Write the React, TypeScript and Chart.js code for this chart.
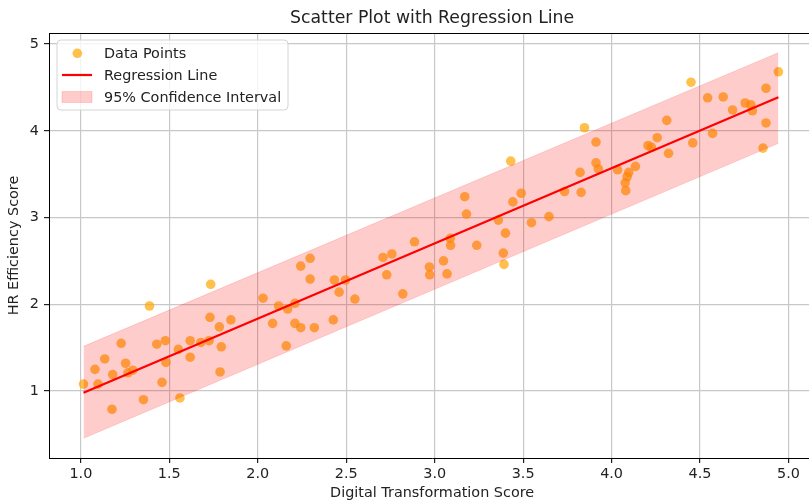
import { useEffect, useRef } from "react";
import { Chart, registerables } from "chart.js";

Chart.register(...registerables);

const TITLE = "Scatter Plot with Regression Line";
const X_LABEL = "Digital Transformation Score";
const Y_LABEL = "HR Efficiency Score";
const LEGEND_LABELS = ["Data Points", "Regression Line", "95% Confidence Interval"];

const DIGITAL_SCORE = [
  1.015, 1.097, 1.08, 1.135, 1.176, 1.18, 1.228, 1.253, 1.266, 1.294,
  1.388, 1.354, 1.429, 1.478, 1.459, 1.481, 1.56, 1.551, 1.618, 1.618,
  1.678, 1.725, 1.734, 1.73, 1.783, 1.794, 1.787, 1.848,
  2.03, 2.084, 2.118, 2.161, 2.169, 2.21, 2.21, 2.243, 2.243, 2.296,
  2.296, 2.32, 2.427, 2.433, 2.46, 2.496, 2.549, 2.708, 2.758, 2.729,
  2.82, 2.886, 2.97, 2.972, 3.05, 3.07,
  3.088, 3.09, 3.17, 3.18, 3.238, 3.36, 3.388, 3.392, 3.4, 3.43,
  3.442, 3.489, 3.547, 3.646, 3.734, 3.822, 3.828, 3.847, 3.912, 3.912,
  3.925, 4.034, 4.077, 4.08, 4.088, 4.097, 4.135,
  4.206, 4.225, 4.258, 4.312, 4.322, 4.449, 4.459, 4.543, 4.571,
  4.631, 4.684, 4.755, 4.787, 4.796, 4.856, 4.873, 4.873, 4.943,
];
const HR_SCORE = [
  1.08, 1.08, 1.25, 1.37, 0.79, 1.19, 1.55, 1.32, 1.21, 1.24,
  1.98, 0.9, 1.54, 1.58, 1.1, 1.33, 0.92, 1.48, 1.58, 1.39,
  1.56, 1.58, 2.23, 1.85, 1.74, 1.51, 1.22, 1.82,
  2.07, 1.78, 1.98, 1.52, 1.945, 2.01, 1.78, 1.73, 2.44, 2.53,
  2.29, 1.73, 1.82, 2.28, 2.14, 2.28, 2.06, 2.54, 2.58, 2.34,
  2.12, 2.72, 2.43, 2.34, 2.5, 2.35,
  2.76, 2.68, 3.24, 3.04, 2.68, 2.97, 2.59, 2.46, 2.82, 3.65,
  3.18, 3.28, 2.94, 3.01, 3.3, 3.52, 3.29, 4.035, 3.87, 3.63,
  3.56, 3.55, 3.4, 3.31, 3.47, 3.52, 3.59,
  3.83, 3.81, 3.92, 4.12, 3.74, 4.56, 3.86, 4.38, 3.97,
  4.39, 4.24, 4.32, 4.3, 4.23, 3.8, 4.49, 4.09, 4.68,
];

const REG_X = [1.015, 4.943];
const REG_Y = [0.98, 4.386];
const CI_LOWER = [0.455, 3.855];
const CI_UPPER = [1.515, 4.9];

const X_TICKS = [1.0, 1.5, 2.0, 2.5, 3.0, 3.5, 4.0, 4.5, 5.0];
const Y_TICKS = [1, 2, 3, 4, 5];

const FONT = "DejaVu Sans";
const TEXT = "#222222";
const POINT_COLOR = "rgba(255,165,0,0.7)";
const LINE_COLOR = "#ff0000";
const BAND_COLOR = "rgba(255,0,0,0.2)";
const GRID_COLOR = "#c8c8c8";

const framePlugin = {
  id: "frame",
  afterDraw(chart: any) {
    const { ctx, chartArea: a } = chart;
    ctx.save();
    // top spine
    ctx.strokeStyle = "#000";
    ctx.lineWidth = 1;
    ctx.beginPath();
    ctx.moveTo(a.left, Math.round(a.top) + 0.5);
    ctx.lineTo(a.right, Math.round(a.top) + 0.5);
    ctx.stroke();

    // title
    ctx.fillStyle = TEXT;
    ctx.font = `17.3px "${FONT}"`;
    ctx.textAlign = "center";
    ctx.textBaseline = "alphabetic";
    ctx.fillText(TITLE, (a.left + a.right) / 2, 23);

    // legend
    const bx = 57, by = 40, bw = 231, bh = 70, r = 4;
    ctx.beginPath();
    ctx.moveTo(bx + r, by);
    ctx.lineTo(bx + bw - r, by);
    ctx.arcTo(bx + bw, by, bx + bw, by + r, r);
    ctx.lineTo(bx + bw, by + bh - r);
    ctx.arcTo(bx + bw, by + bh, bx + bw - r, by + bh, r);
    ctx.lineTo(bx + r, by + bh);
    ctx.arcTo(bx, by + bh, bx, by + bh - r, r);
    ctx.lineTo(bx, by + r);
    ctx.arcTo(bx, by, bx + r, by, r);
    ctx.closePath();
    ctx.fillStyle = "rgba(255,255,255,0.8)";
    ctx.fill();
    ctx.strokeStyle = "#d4d4d4";
    ctx.lineWidth = 1;
    ctx.stroke();

    // marker
    ctx.fillStyle = POINT_COLOR;
    ctx.beginPath();
    ctx.arc(77.3, 53.3, 4.8, 0, Math.PI * 2);
    ctx.fill();
    // line
    ctx.strokeStyle = LINE_COLOR;
    ctx.lineWidth = 2.2;
    ctx.beginPath();
    ctx.moveTo(62, 75);
    ctx.lineTo(92, 75);
    ctx.stroke();
    // band patch
    ctx.fillStyle = BAND_COLOR;
    ctx.fillRect(62, 91.5, 30, 11);
    ctx.strokeStyle = "rgba(255,0,0,0.15)";
    ctx.lineWidth = 1;
    ctx.strokeRect(62, 91.5, 30, 11);

    ctx.fillStyle = TEXT;
    ctx.font = `14.4px "${FONT}"`;
    ctx.textAlign = "left";
    const baselines = [58.3, 79.8, 101.6];
    LEGEND_LABELS.forEach((t, i) => ctx.fillText(t, 104, baselines[i]));
    ctx.restore();
  },
};

export default function App() {
  const ref = useRef<HTMLCanvasElement | null>(null);

  useEffect(() => {
    if (!ref.current) return;
    const points = DIGITAL_SCORE.map((x, i) => ({ x, y: HR_SCORE[i] }));
    const reg = REG_X.map((x, i) => ({ x, y: REG_Y[i] }));
    const lower = REG_X.map((x, i) => ({ x, y: CI_LOWER[i] }));
    const upper = REG_X.map((x, i) => ({ x, y: CI_UPPER[i] }));

    const chart = new Chart(ref.current, {
      type: "scatter",
      data: {
        datasets: [
          {
            label: LEGEND_LABELS[0],
            data: points,
            backgroundColor: POINT_COLOR,
            borderWidth: 0,
            pointRadius: 4.8,
            pointHoverRadius: 4.8,
            order: 3,
          } as any,
          {
            type: "line",
            label: LEGEND_LABELS[1],
            data: reg,
            borderColor: LINE_COLOR,
            borderWidth: 2.2,
            pointRadius: 0,
            fill: false,
            order: 2,
          },
          {
            type: "line",
            label: "ci-lower",
            data: lower,
            borderColor: "rgba(255,0,0,0.15)",
            borderWidth: 1,
            pointRadius: 0,
            fill: false,
            order: 1,
          },
          {
            type: "line",
            label: LEGEND_LABELS[2],
            data: upper,
            borderColor: "rgba(255,0,0,0.15)",
            borderWidth: 1,
            pointRadius: 0,
            backgroundColor: BAND_COLOR,
            fill: "-1",
            order: 0,
          },
        ],
      },
      options: {
        responsive: false,
        animation: false,
        devicePixelRatio: 1,
        layout: { padding: { top: 33, left: 0, right: 0, bottom: 0 } },
        plugins: {
          legend: { display: false },
          title: { display: false },
          tooltip: { enabled: false },
        },
        scales: {
          x: {
            type: "linear",
            min: 0.82,
            max: 5.151,
            afterBuildTicks: (s: any) => {
              s.ticks = X_TICKS.map((v) => ({ value: v }));
            },
            afterFit: (s: any) => {
              s.height = 44;
            },
            ticks: {
              callback: (v: any) => Number(v).toFixed(1),
              color: TEXT,
              font: { family: FONT, size: 14.4 },
              padding: 3,
              maxRotation: 0,
              autoSkip: false,
            },
            grid: { color: GRID_COLOR, lineWidth: 1.2, tickColor: "#222", tickLength: 5 },
            border: { color: "#000", width: 1 },
            title: {
              display: true,
              text: X_LABEL,
              color: TEXT,
              font: { family: FONT, size: 14.4 },
              padding: { top: 0, bottom: 0 },
            },
          },
          y: {
            type: "linear",
            min: 0.228,
            max: 5.127,
            afterBuildTicks: (s: any) => {
              s.ticks = Y_TICKS.map((v) => ({ value: v }));
            },
            afterFit: (s: any) => {
              s.width = 49;
            },
            ticks: {
              callback: (v: any) => String(Math.round(Number(v))),
              color: TEXT,
              font: { family: FONT, size: 14.4 },
              padding: 5,
              autoSkip: false,
            },
            grid: { color: GRID_COLOR, lineWidth: 1.2, tickColor: "#222", tickLength: 5 },
            border: { color: "#000", width: 1 },
            title: {
              display: true,
              text: Y_LABEL,
              color: TEXT,
              font: { family: FONT, size: 14.4 },
              padding: { top: 6, bottom: 0 },
            },
          },
        },
      },
      plugins: [framePlugin],
    });
    return () => chart.destroy();
  }, []);

  return (
    <div
      style={{
        position: "fixed",
        left: 0,
        top: 0,
        width: 809,
        height: 502,
        overflow: "hidden",
        background: "#fff",
      }}
    >
      <canvas ref={ref} width={820} height={502} style={{ width: 820, height: 502, display: "block" }} />
    </div>
  );
}
